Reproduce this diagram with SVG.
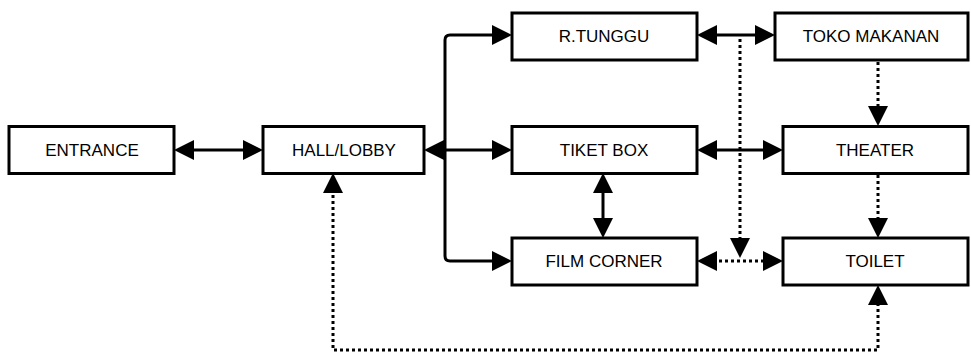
<svg xmlns="http://www.w3.org/2000/svg" width="971" height="353" viewBox="0 0 971 353">
<style>
.box{fill:#fff;stroke:#000;stroke-width:3}
.lbl{font-family:"Liberation Sans",Arial,sans-serif;font-size:17px;fill:#000;text-anchor:middle;dominant-baseline:central}
.solid{fill:none;stroke:#000;stroke-width:3}
.dot{fill:none;stroke:#000;stroke-width:3;stroke-dasharray:3 3}
.sa{marker-start:url(#ah)}
.ea{marker-end:url(#ah)}
</style>
<defs>
<marker id="ah" markerUnits="userSpaceOnUse" markerWidth="20" markerHeight="20" refX="10" refY="10" orient="auto-start-reverse" viewBox="0 0 20 20">
<path d="M0,0 L20,10 L0,20 z" fill="#000"/>
</marker>
</defs>
<rect width="971" height="353" fill="#fff"/>
<g id="connectors">
<path class="solid sa ea" d="M184,150 L253,150"/>
<path class="solid ea" d="M445,150 L434,150"/>
<path class="solid ea" d="M445,150 L502,150"/>
<path class="solid ea" d="M445,150 L445,40 Q445,35 450,35 L502,35"/>
<path class="solid ea" d="M445,150 L445,256 Q445,261 450,261 L502,261"/>
<path class="solid sa ea" d="M707,35 L765,35"/>
<path class="solid sa ea" d="M707,150 L773,150"/>
<path class="solid sa ea" d="M603,183 L603,228"/>
<path class="dot sa ea" d="M707,261 L773,261"/>
<path class="dot ea" d="M740,39 L740,248"/>
<path class="dot ea" d="M878,62 L878,116"/>
<path class="dot ea" d="M878,175 L878,228"/>
<path class="dot sa ea" d="M333,183 L333,350 L878,350 L878,295"/>
</g>
<g id="entrance"><rect class="box" x="9" y="126.5" width="165" height="47"/><text class="lbl" x="92" y="150">ENTRANCE</text></g>
<g id="hall-lobby"><rect class="box" x="263" y="126.5" width="161" height="47"/><text class="lbl" x="344" y="150">HALL/LOBBY</text></g>
<g id="r-tunggu"><rect class="box" x="512" y="13" width="185" height="47"/><text class="lbl" x="604" y="36">R.TUNGGU</text></g>
<g id="toko-makanan"><rect class="box" x="775" y="13" width="193" height="47"/><text class="lbl" x="871" y="36">TOKO MAKANAN</text></g>
<g id="tiket-box"><rect class="box" x="512" y="126.5" width="185" height="47"/><text class="lbl" x="604" y="150">TIKET BOX</text></g>
<g id="theater"><rect class="box" x="783" y="126.5" width="185" height="47"/><text class="lbl" x="875" y="150">THEATER</text></g>
<g id="film-corner"><rect class="box" x="512" y="238" width="185" height="47"/><text class="lbl" x="604" y="261">FILM CORNER</text></g>
<g id="toilet"><rect class="box" x="783" y="238" width="185" height="47"/><text class="lbl" x="875" y="261">TOILET</text></g>
</svg>
